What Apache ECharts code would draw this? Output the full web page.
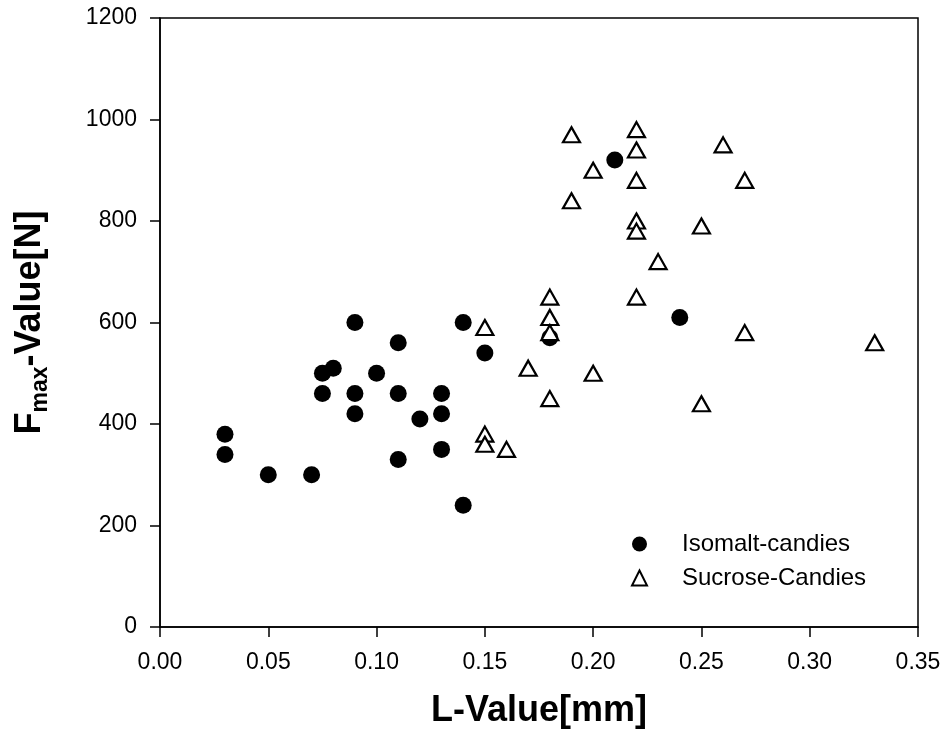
<!DOCTYPE html>
<html>
<head>
<meta charset="utf-8">
<script src="https://cdn.jsdelivr.net/npm/echarts@6/dist/echarts.min.js"></script>
<style>
html,body{margin:0;padding:0;background:#fff;}
#chart{width:945px;height:745px;}
</style>
</head>
<body>
<div id="chart"></div>
<script>
// Data
const isomaltL = [0.03, 0.03, 0.05, 0.07, 0.075, 0.075, 0.08, 0.09, 0.09, 0.09, 0.10, 0.11, 0.11, 0.11, 0.12, 0.13, 0.13, 0.13, 0.14, 0.14, 0.15, 0.18, 0.21, 0.24];
const isomaltF = [380, 340, 300, 300, 500, 460, 510, 600, 460, 420, 500, 560, 460, 330, 410, 460, 420, 350, 600, 240, 540, 570, 920, 610];

const sucroseL = [0.15, 0.15, 0.15, 0.16, 0.17, 0.18, 0.18, 0.18, 0.18, 0.19, 0.19, 0.20, 0.20, 0.22, 0.22, 0.22, 0.22, 0.22, 0.22, 0.23, 0.25, 0.25, 0.26, 0.27, 0.27, 0.33];
const sucroseF = [590, 380, 360, 350, 510, 650, 610, 580, 450, 970, 840, 900, 500, 980, 940, 880, 800, 780, 650, 720, 790, 440, 950, 880, 580, 560];

const seriesNames = ['Isomalt-candies', 'Sucrose-Candies'];
const xTicks = [0, 0.05, 0.10, 0.15, 0.20, 0.25, 0.30, 0.35];
const yTicks = [0, 200, 400, 600, 800, 1000, 1200];

const FONT = "'Liberation Sans', Arial, Helvetica, sans-serif";

const zip = (a, b) => a.map((v, i) => [v, b[i]]);

const chart = echarts.init(document.getElementById('chart'), null, {renderer: 'canvas'});
chart.setOption({
  backgroundColor: '#ffffff',
  animation: false,
  grid: {
    left: 160, right: 27, top: 18, bottom: 118,
    show: true, borderColor: '#000', borderWidth: 1.5, backgroundColor: 'transparent'
  },
  xAxis: {
    type: 'value',
    min: xTicks[0], max: xTicks[xTicks.length - 1], interval: 0.05,
    name: 'L-Value[mm]',
    nameLocation: 'middle',
    nameGap: 66,
    nameTextStyle: {fontFamily: FONT, fontSize: 36, fontWeight: 'bold', color: '#000'},
    axisLine: {lineStyle: {color: '#000', width: 1.5}},
    axisTick: {length: 10, lineStyle: {color: '#000', width: 1.5}},
    axisLabel: {
      fontFamily: FONT, fontSize: 23, color: '#000', margin: 24,
      formatter: v => v.toFixed(2)
    },
    splitLine: {show: false}
  },
  yAxis: {
    type: 'value',
    min: yTicks[0], max: yTicks[yTicks.length - 1], interval: 200,
    name: '{a|F}{b|max}{a|-Value[N]}',
    nameLocation: 'middle',
    nameRotate: 90,
    nameGap: 111,
    nameTextStyle: {
      fontFamily: FONT, fontWeight: 'bold', color: '#000',
      rich: {
        a: {fontFamily: FONT, fontSize: 36, fontWeight: 'bold', color: '#000', lineHeight: 37},
        b: {fontFamily: FONT, fontSize: 23, fontWeight: 'bold', color: '#000', lineHeight: 23, padding: [20, 0, 0, 0]}
      }
    },
    axisLine: {lineStyle: {color: '#000', width: 1.5}},
    axisTick: {length: 10, lineStyle: {color: '#000', width: 1.5}},
    axisLabel: {fontFamily: FONT, fontSize: 23, color: '#000', margin: 23, formatter: v => String(v)},
    splitLine: {show: false}
  },
  legend: {
    orient: 'vertical',
    left: 626, top: 527,
    itemWidth: 15, itemHeight: 15, itemGap: 10,
    symbolKeepAspect: true,
    data: seriesNames,
    textStyle: {fontFamily: FONT, fontSize: 24, color: '#000', padding: [0, 0, 0, 30]}
  },
  series: [
    {
      name: seriesNames[0],
      type: 'scatter',
      data: zip(isomaltL, isomaltF),
      symbol: 'circle',
      symbolSize: 17,
      itemStyle: {color: '#000', opacity: 1},
      z: 2
    },
    {
      name: seriesNames[1],
      type: 'scatter',
      data: zip(sucroseL, sucroseF),
      symbol: 'triangle',
      symbolSize: [17, 15],
      itemStyle: {color: '#fff', borderColor: '#000', borderWidth: 2.2, opacity: 1},
      z: 3
    }
  ]
});
</script>
</body>
</html>
